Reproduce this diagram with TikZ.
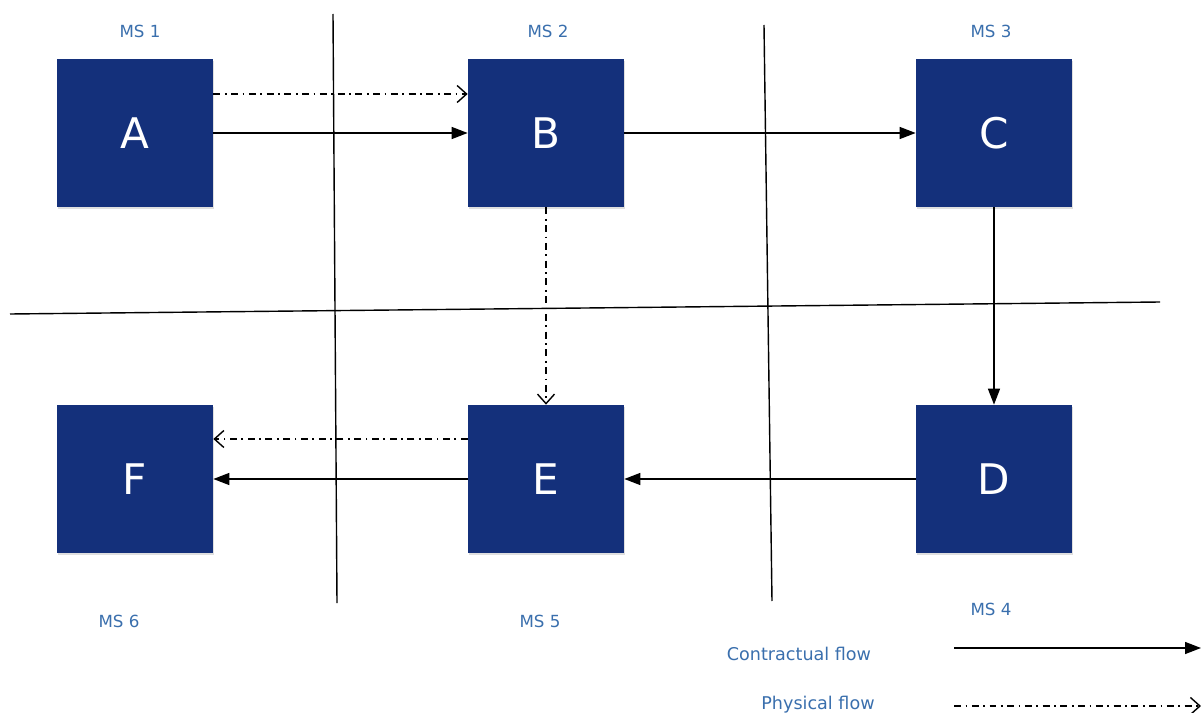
\documentclass[tikz,border=0pt]{standalone}
\usepackage{fontspec}
\setmainfont{DejaVu Sans}
\usetikzlibrary{arrows.meta,shadows}
\definecolor{boxblue}{HTML}{14307B}
\definecolor{labelblue}{HTML}{3A6FAD}
\tikzset{
  msbox/.style={fill=boxblue, minimum width=3.12cm, minimum height=2.96cm, text=white,
    font=\fontsize{24}{28}\selectfont,
    drop shadow={opacity=0.25, shadow xshift=0.6pt, shadow yshift=-1pt}},
  mslabel/.style={text=labelblue, font=\fontsize{9.5}{11}\selectfont},
  contract/.style={-{Triangle[length=3.2mm,width=2.4mm]}, line width=0.8pt},
  physical/.style={-{Straight Barb[length=1.9mm,width=3.4mm]}, line width=0.8pt,
    dash pattern=on 1.4mm off 0.9mm on 0.35mm off 0.9mm},
}
\begin{document}
\begin{tikzpicture}[x=0.02cm, y=-0.02cm]
      \useasboundingbox (0,0) rectangle (1201,713);

      % zone borders
      \draw[line width=0.8pt] (333,14) -- (337,603);
      \draw[line width=0.8pt] (764,25) -- (772,601);
      \draw[line width=0.8pt] (10,314) -- (1160,302);

      % stages
      \node[msbox] (A) at (135,133) {A};
      \node[msbox] (B) at (546,133) {B};
      \node[msbox] (C) at (994,133) {C};
      \node[msbox] (F) at (135,479) {F};
      \node[msbox] (E) at (546,479) {E};
      \node[msbox] (D) at (994,479) {D};

      \node[mslabel] (ms1) at (140,31) {MS 1};
      \node[mslabel] (ms2) at (548,31) {MS 2};
      \node[mslabel] (ms3) at (991,31) {MS 3};
      \node[mslabel] (ms6) at (119,621) {MS 6};
      \node[mslabel] (ms5) at (540,621) {MS 5};
      \node[mslabel] (ms4) at (991,609) {MS 4};

      % flows
      \draw[physical] ([yshift=0.78cm]A.east) -- ([yshift=0.78cm]B.west);
      \draw[contract] (A) -- (B);
      \draw[contract] (B) -- (C);
      \draw[contract] (C) -- (D);
      \draw[physical] (B) -- (E);
      \draw[contract] (D) -- (E);
      \draw[contract] (E) -- (F);
      \draw[physical] ([yshift=0.8cm]E.west) -- ([yshift=0.8cm]F.east);

      % legend
      \node[mslabel, font=\fontsize{10}{12}\selectfont] (lc) at (799,654) {Contractual flow};
      \node[mslabel, font=\fontsize{10}{12}\selectfont] (lp) at (818,705) {Physical flow};
      \coordinate (lc0) at (954,648);
      \coordinate (lc1) at (1201,648);
      \coordinate (lp0) at (954,706);
      \coordinate (lp1) at (1201,706);
      \draw[contract] (lc0) -- (lc1);
      \draw[physical] (lp0) -- (lp1);
   \end{tikzpicture}
\end{document}
